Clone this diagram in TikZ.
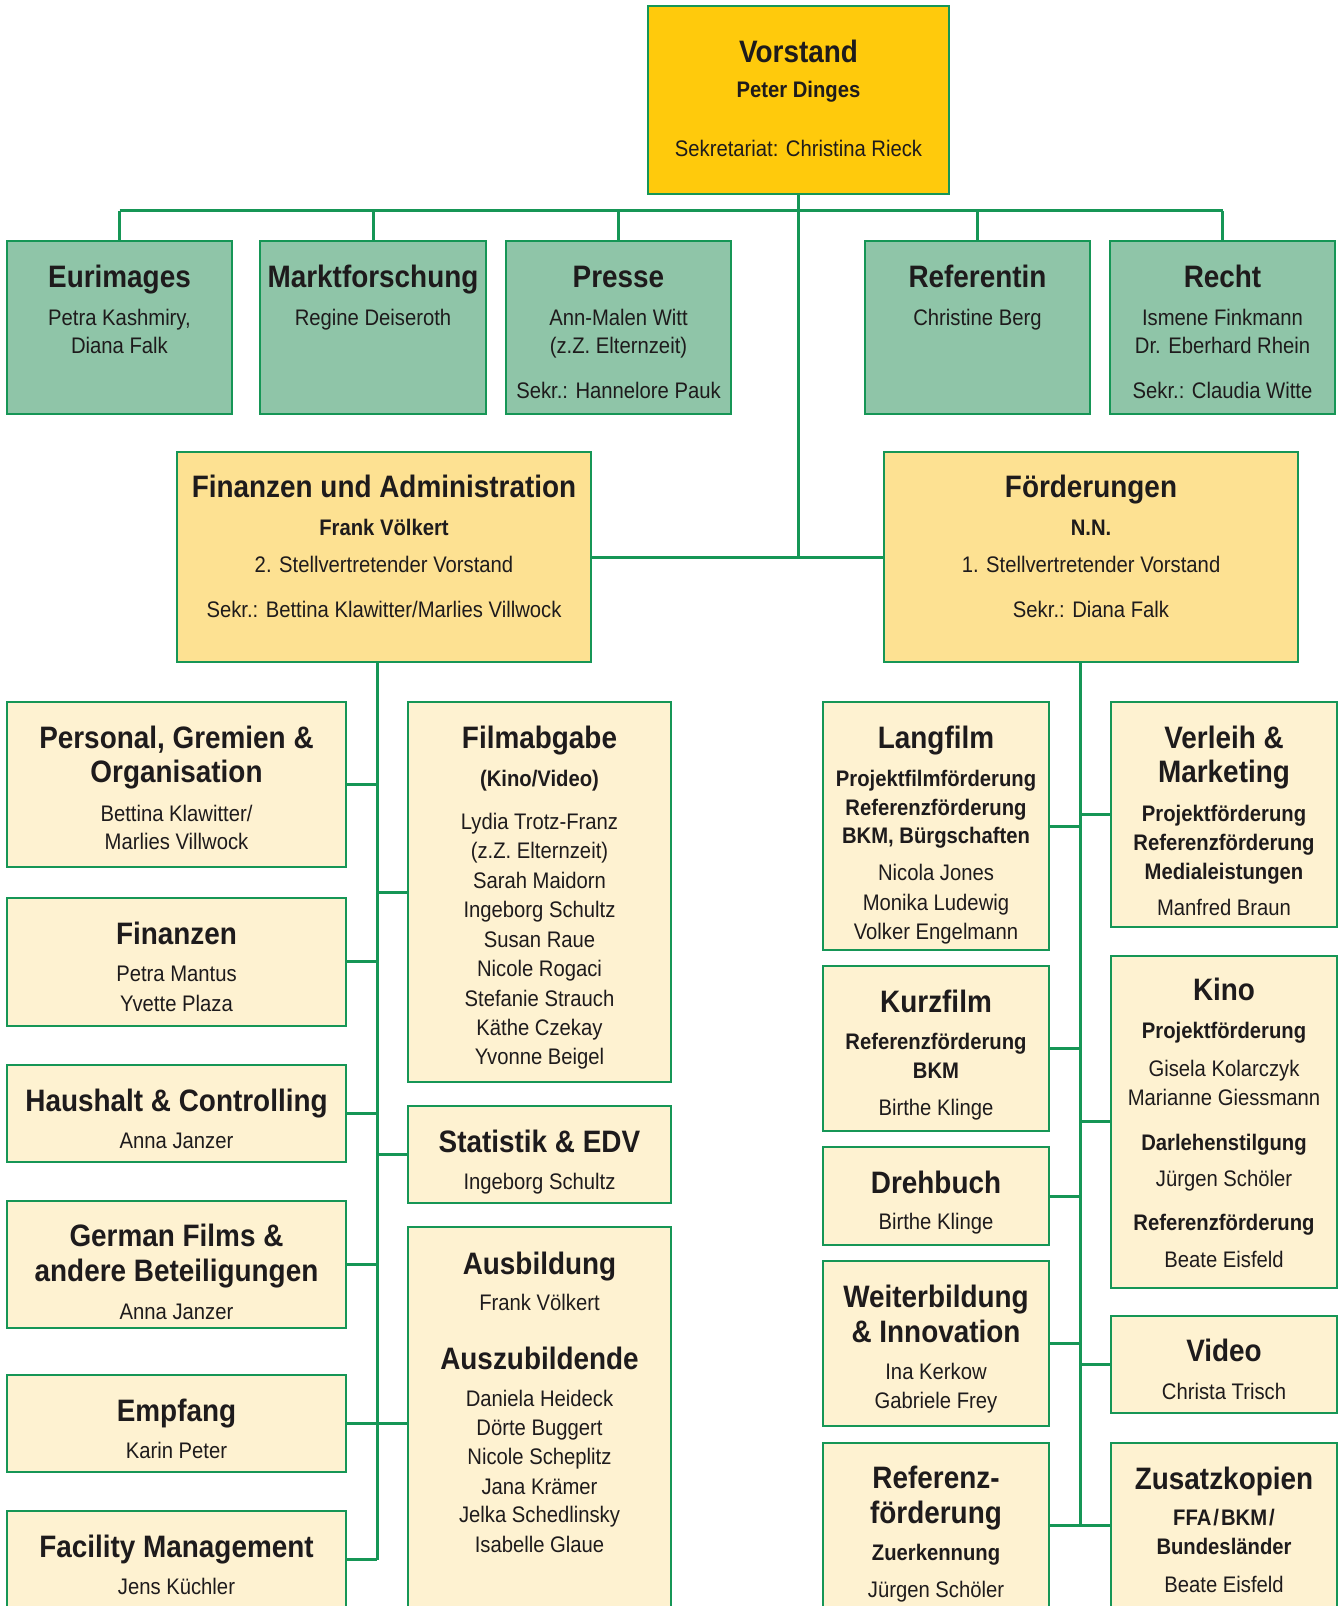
\documentclass[tikz,border=0pt]{standalone}
\usepackage{fontspec}
\setmainfont{Liberation Sans}[FakeStretch=0.9]
\usetikzlibrary{fit}
\definecolor{lgreen}{RGB}{22,150,86}
\definecolor{gfill}{RGB}{143,197,168}
\definecolor{vfill}{RGB}{255,202,12}
\definecolor{ofill}{RGB}{253,225,146}
\definecolor{pfill}{RGB}{254,242,209}
\definecolor{ink}{RGB}{30,27,28}
\tikzset{
  conn/.style={draw=lgreen, line width=1.5pt},
  boxbase/.style={draw=lgreen, line width=1pt, inner sep=0pt, outer sep=0pt},
  boxV/.style={boxbase, fill=vfill},
  boxG/.style={boxbase, fill=gfill},
  boxO/.style={boxbase, fill=ofill},
  boxP/.style={boxbase, fill=pfill},
  ttl/.style={anchor=base, inner sep=0pt, text=ink, font=\fontsize{15.5}{18}\selectfont\bfseries},
  sub/.style={anchor=base, inner sep=0pt, text=ink, font=\fontsize{11.25}{13}\selectfont\bfseries},
  txt/.style={anchor=base, inner sep=0pt, text=ink, font=\fontsize{11.25}{13}\selectfont},
}
\newcommand\bx[6]{\node[#2, fit={(#3,#4) (#5,#6)}] (#1) {};}
\begin{document}
\begin{tikzpicture}[x=0.5pt,y=-0.5pt]
\useasboundingbox (0,0) rectangle (1338,1606);
\clip (0,0) rectangle (1338,1606);

% ---------- boxes ----------
\bx{vor}{boxV}{648}{6}{949}{194}
\bx{eur}{boxG}{7}{241}{232}{414}
\bx{mkt}{boxG}{260}{241}{486}{414}
\bx{pre}{boxG}{506}{241}{731}{414}
\bx{rfn}{boxG}{865}{241}{1090}{414}
\bx{rec}{boxG}{1110}{241}{1335}{414}
\bx{fua}{boxO}{177}{452}{591}{662}
\bx{foe}{boxO}{884}{452}{1298}{662}
% left column
\bx{pers}{boxP}{7}{702}{346}{867}
\bx{fin}{boxP}{7}{898}{346}{1025.5}
\bx{hh}{boxP}{7}{1064.5}{346}{1162}
\bx{gf}{boxP}{7}{1200.6}{346}{1328}
\bx{emp}{boxP}{7}{1374.7}{346}{1472}
\bx{fac}{boxP}{7}{1511}{346}{1608}
% middle column
\bx{film}{boxP}{408}{702}{671}{1082}
\bx{stat}{boxP}{408}{1106}{671}{1203}
\bx{ausb}{boxP}{408}{1227}{671}{1619.7}
% right column A
\bx{lang}{boxP}{823}{702}{1049}{950}
\bx{kurz}{boxP}{823}{966}{1049}{1131}
\bx{dreh}{boxP}{823}{1147}{1049}{1245}
\bx{weit}{boxP}{823}{1261}{1049}{1426}
\bx{refo}{boxP}{823}{1442.5}{1049}{1608}
% right column B
\bx{verl}{boxP}{1111}{702}{1337}{927}
\bx{kino}{boxP}{1111}{956}{1337}{1287.6}
\bx{vid}{boxP}{1111}{1316}{1337}{1413}
\bx{zus}{boxP}{1111}{1442.5}{1337}{1608}

% ---------- connectors ----------
\coordinate (hbar) at (798.5,210.7);
\draw[conn] (vor.south) -- (vor.south |- fua.east);
\draw[conn] (eur.north |- hbar) -- (rec.north |- hbar);
\foreach \b in {eur,mkt,pre,rfn,rec} \draw[conn] (\b.north) -- (\b.north |- hbar);
\draw[conn] (fua.east) -- (foe.west);
% Finanzen und Administration trunk
\coordinate (ftop) at (377,662);
\draw[conn] (ftop) -- (ftop |- fac.east);
\foreach \b in {pers,fin,hh,gf,emp,fac} \draw[conn] (\b.east) -- (\b.east -| ftop);
\foreach \b in {film,stat,ausb} \draw[conn] (\b.west) -- (\b.west -| ftop);
% Foerderungen trunk
\coordinate (rtop) at (1080,662);
\draw[conn] (rtop) -- (rtop |- refo.east);
\foreach \b in {lang,kurz,dreh,weit,refo} \draw[conn] (\b.east) -- (\b.east -| rtop);
\foreach \b in {verl,kino,vid,zus} \draw[conn] (\b.west) -- (\b.west -| rtop);

% ---------- texts ----------
\node[ttl] (vor-a) at (798.5,62) {Vorstand};
\node[sub] (vor-b) at (798.5,97) {Peter Dinges};
\node[txt] (vor-c) at (798.5,156) {Sekretariat: Christina Rieck};

\node[ttl] (eur-a) at (119.5,287) {Eurimages};
\node[txt] (eur-b) at (119.5,325) {Petra Kashmiry,};
\node[txt] (eur-c) at (119.5,353) {Diana Falk};
\node[ttl] (mkt-a) at (373,287) {Marktforschung};
\node[txt] (mkt-b) at (373,325) {Regine Deiseroth};
\node[ttl] (pre-a) at (618.5,287) {Presse};
\node[txt] (pre-b) at (618.5,325) {Ann-Malen Witt};
\node[txt] (pre-c) at (618.5,353) {(z.Z. Elternzeit)};
\node[txt] (pre-d) at (618.5,398) {Sekr.: Hannelore Pauk};
\node[ttl] (rfn-a) at (977.5,287) {Referentin};
\node[txt] (rfn-b) at (977.5,325) {Christine Berg};
\node[ttl] (rec-a) at (1222.5,287) {Recht};
\node[txt] (rec-b) at (1222.5,325) {Ismene Finkmann};
\node[txt] (rec-c) at (1222.5,353) {Dr. Eberhard Rhein};
\node[txt] (rec-d) at (1222.5,398) {Sekr.: Claudia Witte};

\node[ttl] (fua-a) at (384,497) {Finanzen und Administration};
\node[sub] (fua-b) at (384,535) {Frank Völkert};
\node[txt] (fua-c) at (384,572) {2. Stellvertretender Vorstand};
\node[txt] (fua-d) at (384,617) {Sekr.: Bettina Klawitter/Marlies Villwock};
\node[ttl] (foe-a) at (1091,497) {Förderungen};
\node[sub] (foe-b) at (1091,535) {N.N.};
\node[txt] (foe-c) at (1091,572) {1. Stellvertretender Vorstand};
\node[txt] (foe-d) at (1091,617) {Sekr.: Diana Falk};

% left column
\node[ttl] (pers-a) at (176.5,748) {Personal, Gremien \&};
\node[ttl] (pers-b) at (176.5,782) {Organisation};
\node[txt] (pers-c) at (176.5,821) {Bettina Klawitter/};
\node[txt] (pers-d) at (176.5,849) {Marlies Villwock};
\node[ttl] (fin-a) at (176.5,944) {Finanzen};
\node[txt] (fin-b) at (176.5,981) {Petra Mantus};
\node[txt] (fin-c) at (176.5,1011) {Yvette Plaza};
\node[ttl] (hh-a) at (176.5,1111) {Haushalt \& Controlling};
\node[txt] (hh-b) at (176.5,1148) {Anna Janzer};
\node[ttl] (gf-a) at (176.5,1246.5) {German Films \&};
\node[ttl] (gf-b) at (176.5,1281) {andere Beteiligungen};
\node[txt] (gf-c) at (176.5,1319) {Anna Janzer};
\node[ttl] (emp-a) at (176.5,1421) {Empfang};
\node[txt] (emp-b) at (176.5,1458) {Karin Peter};
\node[ttl] (fac-a) at (176.5,1557) {Facility Management};
\node[txt] (fac-b) at (176.5,1594) {Jens Küchler};

% middle column
\node[ttl] (film-a) at (539.5,748) {Filmabgabe};
\node[sub] (film-b) at (539.5,786) {(Kino/Video)};
\node[txt] (film-c) at (539.5,829) {Lydia Trotz-Franz};
\node[txt] (film-d) at (539.5,858.5) {(z.Z. Elternzeit)};
\node[txt] (film-e) at (539.5,888) {Sarah Maidorn};
\node[txt] (film-f) at (539.5,917.5) {Ingeborg Schultz};
\node[txt] (film-g) at (539.5,947) {Susan Raue};
\node[txt] (film-h) at (539.5,976.5) {Nicole Rogaci};
\node[txt] (film-i) at (539.5,1006) {Stefanie Strauch};
\node[txt] (film-j) at (539.5,1035.5) {Käthe Czekay};
\node[txt] (film-k) at (539.5,1064.5) {Yvonne Beigel};
\node[ttl] (stat-a) at (539.5,1152) {Statistik \& EDV};
\node[txt] (stat-b) at (539.5,1189) {Ingeborg Schultz};
\node[ttl] (ausb-a) at (539.5,1274) {Ausbildung};
\node[txt] (ausb-b) at (539.5,1310) {Frank Völkert};
\node[ttl] (ausb-c) at (539.5,1369) {Auszubildende};
\node[txt] (ausb-d) at (539.5,1406) {Daniela Heideck};
\node[txt] (ausb-e) at (539.5,1435) {Dörte Buggert};
\node[txt] (ausb-f) at (539.5,1464) {Nicole Scheplitz};
\node[txt] (ausb-g) at (539.5,1494) {Jana Krämer};
\node[txt] (ausb-h) at (539.5,1522.7) {Jelka Schedlinsky};
\node[txt] (ausb-i) at (539.5,1552) {Isabelle Glaue};

% right column A
\node[ttl] (lang-a) at (936,748) {Langfilm};
\node[sub] (lang-b) at (936,786) {Projektfilmförderung};
\node[sub] (lang-c) at (936,815) {Referenzförderung};
\node[sub] (lang-d) at (936,843) {BKM, Bürgschaften};
\node[txt] (lang-e) at (936,880) {Nicola Jones};
\node[txt] (lang-f) at (936,910) {Monika Ludewig};
\node[txt] (lang-g) at (936,939) {Volker Engelmann};
\node[ttl] (kurz-a) at (936,1012) {Kurzfilm};
\node[sub] (kurz-b) at (936,1049) {Referenzförderung};
\node[sub] (kurz-c) at (936,1078.6) {BKM};
\node[txt] (kurz-d) at (936,1115.5) {Birthe Klinge};
\node[ttl] (dreh-a) at (936,1193) {Drehbuch};
\node[txt] (dreh-b) at (936,1229.5) {Birthe Klinge};
\node[ttl] (weit-a) at (936,1307) {Weiterbildung};
\node[ttl] (weit-b) at (936,1342.5) {\& Innovation};
\node[txt] (weit-c) at (936,1379) {Ina Kerkow};
\node[txt] (weit-d) at (936,1408) {Gabriele Frey};
\node[ttl] (refo-a) at (936,1488.7) {Referenz-};
\node[ttl] (refo-b) at (936,1523) {förderung};
\node[sub] (refo-c) at (936,1560) {Zuerkennung};
\node[txt] (refo-d) at (936,1597.5) {Jürgen Schöler};

% right column B
\node[ttl] (verl-a) at (1224,748) {Verleih \&};
\node[ttl] (verl-b) at (1224,782) {Marketing};
\node[sub] (verl-c) at (1224,821) {Projektförderung};
\node[sub] (verl-d) at (1224,850) {Referenzförderung};
\node[sub] (verl-e) at (1224,879) {Medialeistungen};
\node[txt] (verl-f) at (1224,915) {Manfred Braun};
\node[ttl] (kino-a) at (1224,1000.6) {Kino};
\node[sub] (kino-b) at (1224,1038.6) {Projektförderung};
\node[txt] (kino-c) at (1224,1076) {Gisela Kolarczyk};
\node[txt] (kino-d) at (1224,1105) {Marianne Giessmann};
\node[sub] (kino-e) at (1224,1150) {Darlehenstilgung};
\node[txt] (kino-f) at (1224,1186) {Jürgen Schöler};
\node[sub] (kino-g) at (1224,1230.6) {Referenzförderung};
\node[txt] (kino-h) at (1224,1267) {Beate Eisfeld};
\node[ttl] (vid-a) at (1224,1361) {Video};
\node[txt] (vid-b) at (1224,1399) {Christa Trisch};
\node[ttl] (zus-a) at (1224,1489) {Zusatzkopien};
\node[sub] (zus-b) at (1224,1525.6) {FFA\kern1pt/\kern1pt BKM\kern1pt/};
\node[sub] (zus-c) at (1224,1554.4) {Bundesländer};
\node[txt] (zus-d) at (1224,1592) {Beate Eisfeld};
\end{tikzpicture}
\end{document}
